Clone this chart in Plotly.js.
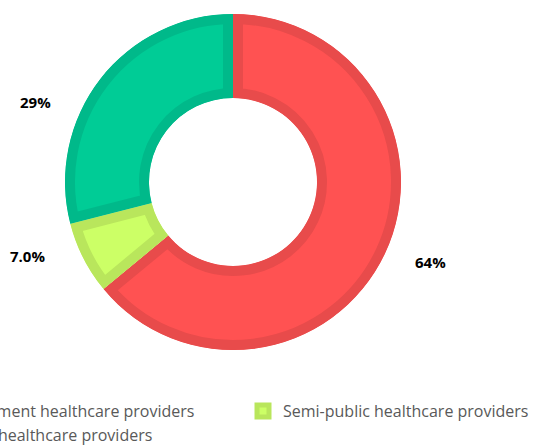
<!DOCTYPE html>
<html>
<head>
<meta charset="utf-8">
<script src="https://cdn.plot.ly/plotly-3.0.1.min.js"></script>
<style>
  html, body { margin: 0; padding: 0; width: 537px; height: 445px; overflow: hidden; background: #fff; }
  #chart { position: absolute; left: -150px; top: 0; width: 750px; height: 445px; }
</style>
</head>
<body>
<div id="chart"></div>
<script>
// ---- data ----
var categories = ["Government healthcare providers", "Semi-public healthcare providers", "Private healthcare providers"];
var shares = [64, 7, 29];
var fillColors = ["#FF5252", "#CCFF66", "#00CC96"];
var borderColors = ["#E84B4B", "#B9E65C", "#00B98A"];
// where each data label sits on the page (pixels from top-left)
var labelAnchors = [[430, 262], [27, 256], [35, 102]];

var W = 750, H = 445, OFFSET = 150;
var cx = 233 + OFFSET, cy = 182, R = 168;

var total = shares.reduce(function (a, b) { return a + b; }, 0);

var trace = {
  type: 'pie',
  values: shares,
  labels: categories,
  sort: false,
  direction: 'clockwise',
  rotation: 0,
  hole: 0.5,
  domain: { x: [(cx - R) / W, (cx + R) / W], y: [(H - cy - R) / H, (H - cy + R) / H] },
  marker: { colors: fillColors, line: { color: borderColors, width: 20 } },
  textinfo: 'none',
  automargin: false,
  hoverinfo: 'none'
};

var annotations = shares.map(function (v, i) {
  return {
    xref: 'paper', yref: 'paper',
    x: (labelAnchors[i][0] + OFFSET) / W,
    y: (H - labelAnchors[i][1]) / H,
    xanchor: 'center', yanchor: 'middle',
    showarrow: false,
    text: (v / total * 100).toPrecision(2) + '%',
    font: { family: 'Open Sans', size: 15, color: '#000000', weight: 'bold' }
  };
});

var layout = {
  width: W, height: H,
  margin: { l: 0, r: 0, t: 0, b: 0, autoexpand: false },
  paper_bgcolor: '#ffffff',
  showlegend: true,
  annotations: annotations,
  legend: {
    orientation: 'h', x: 52 / W, xanchor: 'left', y: (H - 394) / H, yanchor: 'top',
    entrywidth: 296,
    font: { family: 'Open Sans', size: 16, color: '#595959' }
  }
};

Plotly.newPlot('chart', [trace], layout, { staticPlot: true, displayModeBar: false }).then(function (gd) {
  var svg = gd.querySelector('svg.main-svg');
  var defs = svg.querySelector('defs');
  var ns = 'http://www.w3.org/2000/svg';
  gd.querySelectorAll('g.slice path.surface').forEach(function (p, i) {
    var cp = document.createElementNS(ns, 'clipPath');
    cp.setAttribute('id', 'sliceclip' + i);
    var q = document.createElementNS(ns, 'path');
    q.setAttribute('d', p.getAttribute('d'));
    cp.appendChild(q);
    defs.appendChild(cp);
    p.setAttribute('clip-path', 'url(#sliceclip' + i + ')');
  });
});
</script>
</body>
</html>
